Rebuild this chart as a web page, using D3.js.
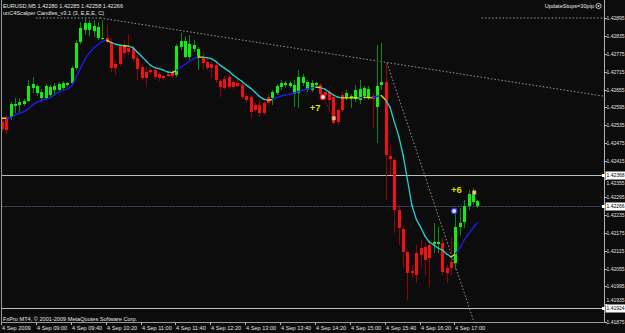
<!DOCTYPE html>
<html><head><meta charset="utf-8">
<script src="https://cdn.jsdelivr.net/npm/d3@7"></script>
<style>html,body{margin:0;padding:0;background:#0c0c0c;overflow:hidden}svg{display:block}</style>
</head><body><svg id="c" width="625" height="333"></svg>
<script>
// ---- DATA (EURUSD M5, 4 Sep 2009, bars from 08:20) ----
const open = [
1.42546,1.42563,1.42563,1.42600,1.42603,1.42606,1.42616,1.42660,1.42643,1.42627,
1.42627,1.42637,1.42653,1.42653,1.42660,1.42670,1.42677,1.42727,1.42814,1.42854,
1.42854,1.42851,1.42828,1.42824,1.42828,1.42814,1.42740,1.42801,1.42801,1.42794,
1.42794,1.42761,1.42730,1.42714,1.42720,1.42720,1.42707,1.42700,1.42707,1.42714,
1.42704,1.42797,1.42764,1.42764,1.42791,1.42764,1.42761,1.42747,1.42740,1.42737,
1.42683,1.42690,1.42697,1.42680,1.42677,1.42670,1.42633,1.42630,1.42603,1.42603,
1.42610,1.42630,1.42627,1.42643,1.42663,1.42670,1.42667,1.42640,1.42643,1.42677,
1.42653,1.42653,1.42670,1.42670,1.42647,1.42647,1.42630,1.42586,1.42637,1.42630,
1.42627,1.42623,1.42620,1.42633,1.42630,1.42633,1.42596,1.42670,1.42680,1.42432,
1.42419,1.42251,1.42187,1.42110,1.42047,1.42107,1.42124,1.42127,1.42134,1.42137,
1.42137,1.42141,1.42057,1.42077,1.42073,1.42194,1.42211,1.42264,1.42278,1.42280];
const high = [
1.42556,1.42570,1.42613,1.42627,1.42627,1.42623,1.42687,1.42697,1.42673,1.42657,
1.42673,1.42670,1.42677,1.42680,1.42683,1.42680,1.42734,1.42821,1.42881,1.42895,
1.42888,1.42888,1.42881,1.42888,1.42875,1.42828,1.42754,1.42807,1.42821,1.42841,
1.42801,1.42771,1.42740,1.42730,1.42727,1.42727,1.42714,1.42704,1.42710,1.42720,
1.42807,1.42844,1.42834,1.42838,1.42821,1.42797,1.42781,1.42761,1.42747,1.42744,
1.42690,1.42700,1.42707,1.42687,1.42693,1.42677,1.42640,1.42637,1.42610,1.42620,
1.42620,1.42640,1.42653,1.42673,1.42687,1.42683,1.42683,1.42687,1.42720,1.42707,
1.42687,1.42687,1.42680,1.42677,1.42660,1.42653,1.42637,1.42593,1.42647,1.42653,
1.42640,1.42670,1.42687,1.42667,1.42667,1.42643,1.42804,1.42811,1.42744,1.42469,
1.42425,1.42268,1.42197,1.42117,1.42067,1.42134,1.42151,1.42141,1.42151,1.42208,
1.42194,1.42157,1.42067,1.42161,1.42244,1.42258,1.42285,1.42318,1.42325,1.42285];
const low = [
1.42516,1.42506,1.42553,1.42576,1.42580,1.42600,1.42613,1.42643,1.42633,1.42613,
1.42620,1.42627,1.42633,1.42647,1.42653,1.42663,1.42670,1.42720,1.42807,1.42838,
1.42834,1.42831,1.42821,1.42821,1.42807,1.42714,1.42704,1.42734,1.42761,1.42771,
1.42747,1.42687,1.42687,1.42663,1.42704,1.42687,1.42683,1.42687,1.42697,1.42693,
1.42697,1.42787,1.42761,1.42754,1.42781,1.42720,1.42720,1.42720,1.42693,1.42677,
1.42630,1.42653,1.42657,1.42657,1.42663,1.42623,1.42613,1.42559,1.42580,1.42563,
1.42570,1.42603,1.42603,1.42637,1.42653,1.42660,1.42660,1.42596,1.42593,1.42667,
1.42647,1.42647,1.42663,1.42633,1.42620,1.42586,1.42539,1.42536,1.42580,1.42620,
1.42593,1.42613,1.42606,1.42620,1.42620,1.42526,1.42476,1.42653,1.42285,1.42368,
1.42174,1.42134,1.42057,1.41949,1.42023,1.42006,1.42057,1.42033,1.41993,1.42107,
1.42107,1.42033,1.42006,1.42033,1.42050,1.42167,1.42191,1.42251,1.42268,1.42258];
const close = [
1.42523,1.42519,1.42606,1.42606,1.42613,1.42616,1.42667,1.42673,1.42667,1.42647,
1.42667,1.42663,1.42667,1.42673,1.42677,1.42677,1.42727,1.42811,1.42861,1.42878,
1.42878,1.42868,1.42864,1.42828,1.42814,1.42727,1.42727,1.42740,1.42777,1.42781,
1.42757,1.42724,1.42693,1.42693,1.42714,1.42697,1.42693,1.42693,1.42700,1.42700,
1.42801,1.42818,1.42818,1.42807,1.42804,1.42791,1.42744,1.42727,1.42727,1.42687,
1.42663,1.42660,1.42663,1.42663,1.42667,1.42630,1.42620,1.42580,1.42586,1.42576,
1.42576,1.42610,1.42647,1.42667,1.42677,1.42677,1.42677,1.42670,1.42697,1.42697,
1.42680,1.42677,1.42677,1.42640,1.42637,1.42620,1.42543,1.42546,1.42586,1.42643,
1.42633,1.42653,1.42657,1.42660,1.42657,1.42623,1.42667,1.42680,1.42435,1.42422,
1.42251,1.42191,1.42110,1.42040,1.42040,1.42033,1.42100,1.42084,1.42090,1.42144,
1.42144,1.42043,1.42040,1.42057,1.42194,1.42208,1.42264,1.42305,1.42308,1.42266];
// indicator trend state (1 = green candle, -1 = red candle)
const trend = [
-1,-1,1,1,1,1,1,1,1,1,
1,1,1,1,1,1,1,1,1,1,
1,1,1,1,-1,-1,-1,-1,-1,-1,
-1,-1,-1,-1,-1,-1,-1,-1,-1,-1,
1,1,1,1,1,1,-1,-1,-1,-1,
-1,-1,-1,-1,-1,-1,-1,-1,-1,-1,
-1,-1,1,1,1,1,1,1,1,1,
1,1,1,-1,-1,-1,-1,-1,-1,1,
1,1,1,1,1,-1,1,1,-1,-1,
-1,-1,-1,-1,-1,-1,-1,-1,-1,1,
1,-1,-1,-1,1,1,1,1,1,1];
// moving average of the indicator
const ma = [
1.42559,1.42559,1.42561,1.42570,1.42576,1.42581,1.42590,1.42603,1.42613,1.42618,
1.42623,1.42627,1.42637,1.42647,1.42652,1.42657,1.42667,1.42697,1.42727,1.42757,
1.42777,1.42794,1.42806,1.42816,1.42821,1.42813,1.42807,1.42804,1.42802,1.42801,
1.42796,1.42781,1.42767,1.42752,1.42737,1.42729,1.42725,1.42720,1.42714,1.42712,
1.42719,1.42730,1.42740,1.42750,1.42759,1.42764,1.42764,1.42762,1.42759,1.42750,
1.42737,1.42727,1.42717,1.42704,1.42693,1.42683,1.42670,1.42660,1.42647,1.42633,
1.42623,1.42620,1.42621,1.42628,1.42633,1.42637,1.42640,1.42643,1.42648,1.42653,
1.42657,1.42660,1.42663,1.42662,1.42657,1.42647,1.42637,1.42630,1.42627,1.42627,
1.42627,1.42627,1.42627,1.42630,1.42628,1.42627,1.42632,1.42635,1.42620,1.42596,
1.42546,1.42499,1.42435,1.42352,1.42268,1.42221,1.42194,1.42164,1.42144,1.42134,
1.42124,1.42117,1.42104,1.42094,1.42104,1.42124,1.42151,1.42171,1.42191,1.42208];

const priceTicks = [1.42895,1.42835,1.42775,1.42715,1.42655,1.42595,1.42535,1.42475,1.42415,
  1.42355,1.42295,1.42235,1.42175,1.42115,1.42055,1.41995,1.41935,1.41875];
const timeTickBars = [0,8,16,24,32,40,48,56,64,72,80,88,96,104];
const timeTickLabels = ["4 Sep 2009","4 Sep 09:00","4 Sep 09:40","4 Sep 10:20","4 Sep 11:00",
  "4 Sep 11:40","4 Sep 12:20","4 Sep 13:00","4 Sep 13:40","4 Sep 14:20","4 Sep 15:00",
  "4 Sep 15:40","4 Sep 16:20","4 Sep 17:00"];
const levelPrices = [1.42368, 1.41924];
const bidPrice = 1.42266;
// trendlines: [bar1, price1, bar2, price2]
const trendLines = [
  [7.8, 1.42895, 22.5, 1.42895],
  [110, 1.42895, 140, 1.42895],
  [22.5, 1.42895, 138, 1.42633],
  [88.3, 1.42744, 110, 1.41800]
];
// closed trades: entry bar/price, exit bar/price, type, result label bar/price
const tradeEntryBar = [73.6, 103.7];
const tradeEntryPrice = [1.42630, 1.42248];
const tradeExitBar = [76.1, 108.3];
const tradeExitPrice = [1.42559, 1.42310];
const tradeType = ["sell", "buy"];
const tradeLabel = ["+7", "+6"];
const tradeLabelBar = [71.8, 104.2];
const tradeLabelPrice = [1.42596, 1.42318];

// ---- DRAWING ----
const W = 625, H = 333;
const PL = 1.5, PR = 604.5, PT = 0, PB = 322.5;
const svg = d3.select('#c');
const FONT = "'Liberation Sans', Arial, sans-serif";
const x = d3.scaleLinear().domain([0, 138]).range([2, 603.7]);
const y = d3.scaleLinear().domain([1.41875, 1.42895]).range([322.3, 18]);

svg.append('rect').attr('width', W).attr('height', H).attr('fill', '#0c0c0c');
svg.append('defs').append('clipPath').attr('id', 'clip')
  .append('rect').attr('x', PL).attr('y', PT).attr('width', PR - PL).attr('height', PB - PT);

const g = svg.append('g').attr('clip-path', 'url(#clip)');

// horizontal levels
levelPrices.forEach(p => {
  g.append('line').attr('x1', PL).attr('x2', PR)
    .attr('y1', Math.round(y(p)) + 0.5).attr('y2', Math.round(y(p)) + 0.5)
    .attr('stroke', '#bdbdbd').attr('stroke-width', 1);
});
g.append('line').attr('x1', PL).attr('x2', PR)
  .attr('y1', Math.round(y(bidPrice)) + 0.5).attr('y2', Math.round(y(bidPrice)) + 0.5)
  .attr('stroke', '#4a5270').attr('stroke-width', 1).attr('stroke-dasharray', '2,1');

// trendlines
trendLines.forEach(t => {
  g.append('line').attr('x1', x(t[0])).attr('y1', y(t[1])).attr('x2', x(t[2])).attr('y2', y(t[3]))
    .attr('stroke', '#9a9a9a').attr('stroke-width', 1).attr('stroke-dasharray', '1.5,2');
});

// candles
const cg = g.append('g').attr('shape-rendering', 'crispEdges');
d3.range(open.length).forEach(i => {
  const cx = Math.round(x(i)) + 0.5;
  const up = trend[i] > 0;
  cg.append('line').attr('x1', cx).attr('x2', cx)
    .attr('y1', y(high[i])).attr('y2', y(low[i]))
    .attr('stroke', up ? '#0f860f' : '#960000').attr('stroke-width', 1);
  const t = y(Math.max(open[i], close[i])), b = y(Math.min(open[i], close[i]));
  cg.append('rect').attr('x', cx - 1.5).attr('width', 3)
    .attr('y', t).attr('height', Math.max(1.2, b - t))
    .attr('fill', up ? '#10ee10' : '#f51010');
});

// moving average line colored by slope
const mg = g.append('g');
let prevSign = 0;
for (let i = 1; i < ma.length; i++) {
  const d = ma[i] - ma[i - 1];
  const s = Math.abs(d) < 0.000015 ? 0 : Math.sign(d);
  let col = s > 0 ? '#1c1cff' : '#1fd3d3';
  if (s === 0 || (prevSign !== 0 && s !== prevSign)) col = '#e6e600';
  mg.append('line').attr('x1', x(i - 1)).attr('y1', y(ma[i - 1])).attr('x2', x(i)).attr('y2', y(ma[i]))
    .attr('stroke', col).attr('stroke-width', 1.3).attr('stroke-linecap', 'round');
  prevSign = s;
}

// trades
tradeType.forEach((tp, k) => {
  const col = tp === 'sell' ? '#e01818' : '#2a3cff';
  g.append('line').attr('x1', x(tradeEntryBar[k])).attr('y1', y(tradeEntryPrice[k]))
    .attr('x2', x(tradeExitBar[k])).attr('y2', y(tradeExitPrice[k]))
    .attr('stroke', col).attr('stroke-width', 1).attr('stroke-dasharray', '1,2');
  g.append('circle').attr('cx', x(tradeEntryBar[k])).attr('cy', y(tradeEntryPrice[k])).attr('r', 2.6)
    .attr('fill', '#e8e8e8').attr('stroke', col).attr('stroke-width', 1.2);
  g.append('rect').attr('x', x(tradeExitBar[k]) - 1.8).attr('y', y(tradeExitPrice[k]) - 1.8)
    .attr('width', 3.6).attr('height', 3.6).attr('fill', '#f0c090').attr('stroke', '#c08040').attr('stroke-width', 0.6);
  g.append('text').attr('x', x(tradeLabelBar[k])).attr('y', y(tradeLabelPrice[k]))
    .attr('dy', '0.35em').attr('text-anchor', 'middle')
    .attr('font-family', FONT).attr('font-size', 9.5).attr('font-weight', 'bold')
    .attr('fill', '#dcdc00').text(tradeLabel[k]);
});

// frame
svg.append('line').attr('x1', PL).attr('x2', PL).attr('y1', 0).attr('y2', PB).attr('stroke', '#9a9a9a');
svg.append('line').attr('x1', PR).attr('x2', PR).attr('y1', 0).attr('y2', PB).attr('stroke', '#b4b4b4');
svg.append('line').attr('x1', PL).attr('x2', PR).attr('y1', PB).attr('y2', PB).attr('stroke', '#9a9a9a');

// price axis
const ax = svg.append('g');
const boxed = [levelPrices[0], bidPrice, levelPrices[1]];
priceTicks.forEach(p => {
  const yy = Math.round(y(p)) + 0.5;
  ax.append('line').attr('x1', PR).attr('x2', PR + 2.5).attr('y1', yy).attr('y2', yy).attr('stroke', '#b4b4b4');
  // nudge labels that sit against a boxed level so they stay readable next to the box
  const near = boxed.find(b => Math.abs(y(b) - y(p)) < 8);
  let dyShift = 0;
  if (near !== undefined) {
    const diff = y(p) - y(near);
    dyShift = diff >= 0 ? 8 - diff : -(8 + diff);
  }
  ax.append('text').attr('x', 606.5).attr('y', yy + dyShift).attr('dy', '0.35em')
    .attr('font-family', FONT).attr('font-size', 5.0).attr('fill', '#e0e0e0').text(p.toFixed(5));
});
boxed.forEach(p => {
  const yy = Math.round(y(p)) + 0.5;
  ax.append('rect').attr('x', 602).attr('y', yy - 1.5).attr('width', 3).attr('height', 3).attr('fill', '#ffffff');
  ax.append('rect').attr('x', 605.5).attr('y', yy - 4).attr('width', 19.5).attr('height', 8).attr('fill', '#ffffff');
  ax.append('text').attr('x', 606.5).attr('y', yy).attr('dy', '0.35em')
    .attr('font-family', FONT).attr('font-size', 5.0).attr('fill', '#000').text(p.toFixed(5));
});

// time axis
timeTickBars.forEach((b, k) => {
  const xx = Math.round(x(b)) - 0.5;
  svg.append('line').attr('x1', xx).attr('x2', xx).attr('y1', PB).attr('y2', PB + 2.5).attr('stroke', '#b4b4b4');
  svg.append('text').attr('x', xx + 0.5).attr('y', 329.5)
    .attr('font-family', FONT).attr('font-size', 5.6).attr('fill', '#e0e0e0').text(timeTickLabels[k]);
});

// header texts
svg.append('text').attr('x', 3).attr('y', 7.5).attr('font-family', FONT).attr('font-size', 5.6)
  .attr('fill', '#e6e6e6').text('EURUSD,M5  1.42280 1.42285 1.42258 1.42266');
svg.append('text').attr('x', 3).attr('y', 14.5).attr('font-family', FONT).attr('font-size', 5.6)
  .attr('fill', '#e6e6e6').text('unC4Scalper Candles_v3.1 (3, E,E,E, C)');
svg.append('text').attr('x', 594).attr('y', 8).attr('text-anchor', 'end').attr('font-family', FONT)
  .attr('font-size', 5.6).attr('fill', '#e6e6e6').text('UpdateStops=30pip');
svg.append('circle').attr('cx', 598.5).attr('cy', 6).attr('r', 2.6).attr('fill', 'none')
  .attr('stroke', '#d0d0d0').attr('stroke-width', 0.9);
svg.append('circle').attr('cx', 598.5).attr('cy', 6).attr('r', 1).attr('fill', '#d0d0d0');
svg.append('text').attr('x', 3).attr('y', 320.5).attr('font-family', FONT).attr('font-size', 5.6)
  .attr('fill', '#e6e6e6').text('FxPro MT4, © 2001-2009 MetaQuotes Software Corp.');
</script></body></html>
